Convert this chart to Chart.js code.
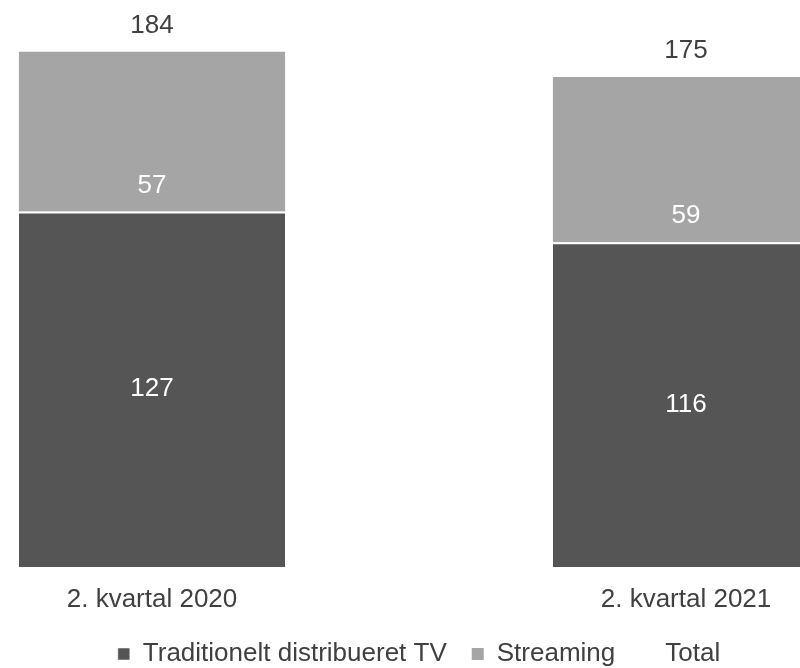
<!DOCTYPE html>
<html lang="da">
<head>
    <meta charset="UTF-8">
    <title>TV-sening</title>
    <script src="https://cdn.jsdelivr.net/npm/chart.js"></script>
    <style>
        html, body {
            margin: 0;
            padding: 0;
            background-color: #ffffff;
        }

        #frame {
            position: relative;
            width: 800px;
            height: 668px;
            overflow: hidden;
        }

        #chart-container {
            position: absolute;
            left: -115px;
            top: 0;
            width: 1068px;
            height: 668px;
        }
    </style>
</head>
<body>
<div id="frame">
    <div id="chart-container">
        <canvas id="tvChart"></canvas>
    </div>
</div>

<script>
    const kvartaler = ['2. kvartal 2020', '2. kvartal 2021'];
    const traditionelt = [127, 116];
    const streaming = [57, 59];
    const total = [184, 175];

    const tekstFarve = '#404040';

    Chart.defaults.font.family = '"Liberation Sans", Arial, sans-serif';
    Chart.defaults.font.size = 26;
    Chart.defaults.color = tekstFarve;

    // Tal på søjlerne: midt i den mørke del, nederst i streaming, total over søjlen
    const vaerdiEtiketter = {
        id: 'vaerdiEtiketter',
        afterDatasetsDraw(chart) {
            const ctx = chart.ctx;
            ctx.save();
            ctx.font = '26px "Liberation Sans", Arial, sans-serif';
            ctx.textAlign = 'center';
            ctx.textBaseline = 'middle';

            chart.getDatasetMeta(0).data.forEach((bar, i) => {
                ctx.fillStyle = '#ffffff';
                ctx.fillText(traditionelt[i], bar.x, (bar.y + bar.base) / 2);
            });
            chart.getDatasetMeta(1).data.forEach((bar, i) => {
                ctx.fillStyle = '#ffffff';
                ctx.fillText(streaming[i], bar.x, bar.base - 26);
            });
            chart.getDatasetMeta(2).data.forEach((pt, i) => {
                ctx.fillStyle = tekstFarve;
                ctx.fillText(total[i], pt.x, pt.y - 26);
            });
            ctx.restore();
        }
    };

    const ctx = document.getElementById('tvChart').getContext('2d');
    new Chart(ctx, {
        type: 'bar',
        data: {
            labels: kvartaler,
            datasets: [
                {
                    label: 'Traditionelt distribueret TV',
                    data: traditionelt,
                    backgroundColor: '#555555',
                    borderColor: '#ffffff',
                    borderWidth: {top: 2},
                    borderSkipped: false
                },
                {
                    label: 'Streaming',
                    data: streaming,
                    backgroundColor: '#a5a5a5',
                    borderWidth: 0
                },
                {
                    type: 'line',
                    label: 'Total',
                    data: total,
                    stack: 'total',
                    showLine: false,
                    pointRadius: 0,
                    pointHoverRadius: 0,
                    borderColor: 'rgba(0,0,0,0)',
                    backgroundColor: 'rgba(0,0,0,0)'
                }
            ]
        },
        options: {
            responsive: true,
            maintainAspectRatio: false,
            animation: false,
            datasets: {
                bar: {
                    categoryPercentage: 1,
                    barPercentage: 0.4984
                }
            },
            layout: {
                padding: {top: 7, bottom: -9, left: 0, right: 0}
            },
            scales: {
                x: {
                    stacked: true,
                    grid: {display: false, drawTicks: false},
                    border: {display: false},
                    ticks: {padding: 17, color: tekstFarve},
                    afterFit(scale) {
                        scale.height = 49;
                    }
                },
                y: {
                    stacked: true,
                    display: false,
                    min: 0,
                    max: 200
                }
            },
            plugins: {
                legend: {
                    position: 'bottom',
                    labels: {
                        boxWidth: 12,
                        boxHeight: 12,
                        padding: 25,
                        color: tekstFarve
                    }
                },
                tooltip: {enabled: false}
            }
        },
        plugins: [vaerdiEtiketter]
    });
</script>
</body>
</html>
